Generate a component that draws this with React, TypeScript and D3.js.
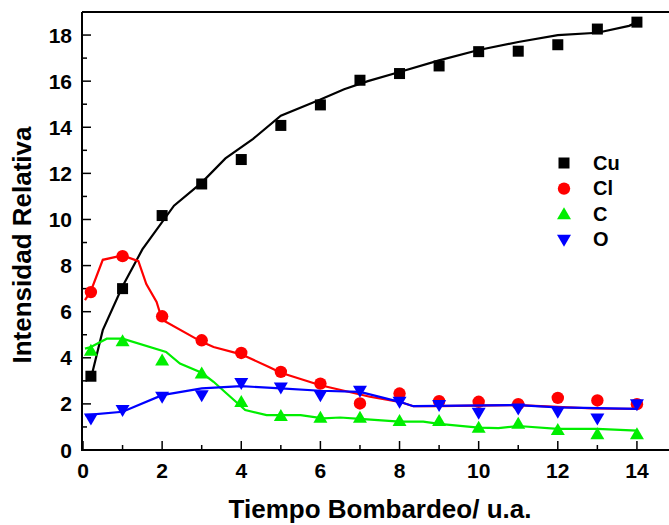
import * as d3 from 'd3'

// measured points (x = tiempo, y = intensidad)
const times = [0.2, 1, 2, 3, 4, 5, 6, 7, 8, 9, 10, 11, 12, 13, 14]
const cuValues = [3.2, 7.0, 10.17, 11.54, 12.6, 14.08, 14.97, 16.04, 16.33, 16.66, 17.28, 17.3, 17.58, 18.26, 18.56]
const clValues = [6.85, 8.41, 5.8, 4.76, 4.21, 3.39, 2.88, 2.02, 2.45, 2.12, 2.09, 1.99, 2.26, 2.15, 1.99]
const cValues = [4.3, 4.72, 3.88, 3.32, 2.08, 1.47, 1.4, 1.4, 1.26, 1.26, 0.97, 1.14, 0.87, 0.68, 0.68]
const oValues = [1.37, 1.73, 2.31, 2.38, 2.91, 2.71, 2.38, 2.57, 2.09, 1.95, 1.62, 1.8, 1.66, 1.37, 1.99]

// fitted curves
const cuFit: [number, number][] = [[0.2, 3.1], [0.5, 5.2], [1, 7.1], [1.5, 8.7], [2.3, 10.6], [3, 11.6], [3.6, 12.65], [4.3, 13.5], [5, 14.5], [6, 15.2], [6.6, 15.65], [7.2, 16.0], [8, 16.4], [9, 16.9], [10, 17.35], [11, 17.7], [12, 18.0], [13, 18.1], [13.8, 18.4], [14, 18.55]]
const clFit: [number, number][] = [[0.05, 6.5], [0.2, 6.9], [0.5, 8.25], [1, 8.44], [1.4, 8.19], [1.6, 7.2], [1.86, 6.42], [2, 5.65], [3, 4.69], [3.3, 4.47], [4, 4.15], [4.7, 3.6], [5, 3.35], [6, 2.81], [7.25, 2.31], [8, 2.09], [8.35, 1.9], [9, 1.9], [11, 1.95], [12, 1.87], [12.9, 1.8], [14, 1.78]]
const cFit: [number, number][] = [[0.05, 4.4], [0.2, 4.47], [0.6, 4.83], [1, 4.83], [2.1, 4.25], [2.45, 3.75], [3, 3.35], [3.3, 2.96], [3.63, 2.45], [4.1, 1.73], [4.64, 1.51], [5.5, 1.51], [6.07, 1.37], [6.5, 1.41], [7, 1.35], [8, 1.23], [8.6, 1.23], [9, 1.13], [10, 0.97], [10.5, 0.95], [11, 1.04], [12, 0.92], [13, 0.92], [14, 0.84]]
const oFit: [number, number][] = [[0.05, 1.51], [1, 1.66], [2, 2.38], [3, 2.67], [4, 2.77], [5, 2.67], [6, 2.57], [7, 2.52], [8, 2.09], [8.35, 1.9], [11, 1.95], [12, 1.85], [14, 1.78]]

const xMajor = [0, 2, 4, 6, 8, 10, 12, 14]
const xMinor = [1, 3, 5, 7, 9, 11, 13]
const yMajor = [0, 2, 4, 6, 8, 10, 12, 14, 16, 18]
const yMinor = [1, 3, 5, 7, 9, 11, 13, 15, 17]

const series = [
  { name: 'Cu', values: cuValues, fit: cuFit, color: '#000000', shape: 'square' },
  { name: 'Cl', values: clValues, fit: clFit, color: '#ff0000', shape: 'circle' },
  { name: 'C', values: cValues, fit: cFit, color: '#00ee00', shape: 'up' },
  { name: 'O', values: oValues, fit: oFit, color: '#0000ff', shape: 'down' },
]

const font = 'Liberation Sans, Arial, sans-serif'

const Marker = ({ shape, x, y, color }: { shape: string; x: number; y: number; color: string }) => {
  if (shape === 'square') return <rect x={x - 5.5} y={y - 5.5} width={11} height={11} fill={color} />
  if (shape === 'circle') return <circle cx={x} cy={y} r={6.2} fill={color} />
  if (shape === 'up') return <path d={`M${x},${y - 7}L${x + 7},${y + 5}L${x - 7},${y + 5}Z`} fill={color} />
  return <path d={`M${x},${y + 7}L${x + 7},${y - 5}L${x - 7},${y - 5}Z`} fill={color} />
}

export default function App() {
  const width = 669
  const height = 525
  const left = 82
  const top = 12
  const bottom = 450

  const x = d3.scaleLinear().domain([0, 15]).range([83, 676.5])
  const y = d3.scaleLinear().domain([0, 19]).range([bottom, top])
  const line = d3.line<[number, number]>().x(d => x(d[0])).y(d => y(d[1]))

  return (
    <svg width={width} height={height} style={{ position: 'absolute', left: 0, top: 0, background: '#fff' }} fontFamily={font}>
      {/* frame */}
      <path d={`M${left},${top}H${width}M${left},${top}V${bottom}H${width}`} fill="none" stroke="#000" strokeWidth={2} />
      {xMajor.map(v => <line key={'xM' + v} x1={x(v)} x2={x(v)} y1={bottom} y2={bottom - 9} stroke="#000" strokeWidth={1.5} />)}
      {xMinor.map(v => <line key={'xm' + v} x1={x(v)} x2={x(v)} y1={bottom} y2={bottom - 5} stroke="#000" strokeWidth={1.5} />)}
      {yMajor.map(v => <line key={'yM' + v} x1={left} x2={left + 9} y1={y(v)} y2={y(v)} stroke="#000" strokeWidth={1.5} />)}
      {yMinor.map(v => <line key={'ym' + v} x1={left} x2={left + 5} y1={y(v)} y2={y(v)} stroke="#000" strokeWidth={1.5} />)}
      {xMajor.map(v => (
        <text key={'xl' + v} x={x(v)} y={478} textAnchor="middle" fontSize={21} fontWeight="bold">{v}</text>
      ))}
      {yMajor.map(v => (
        <text key={'yl' + v} x={72} y={y(v) + 7.5} textAnchor="end" fontSize={21} fontWeight="bold">{v}</text>
      ))}
      <text x={380} y={518} textAnchor="middle" fontSize={26} fontWeight="bold">Tiempo Bombardeo/ u.a.</text>
      <text transform="translate(31,245) rotate(-90)" textAnchor="middle" fontSize={26} fontWeight="bold">Intensidad Relativa</text>

      {series.map(s => (
        <g key={s.name}>
          <path d={line(s.fit) || ''} fill="none" stroke={s.color} strokeWidth={2.2} />
          {s.values.map((v, i) => <Marker key={i} shape={s.shape} x={x(times[i])} y={y(v)} color={s.color} />)}
        </g>
      ))}

      {series.map((s, i) => (
        <g key={'lg' + s.name} transform={`translate(0,${163 + i * 25.6})`}>
          <Marker shape={s.shape} x={564} y={0} color={s.color} />
          <text x={593} y={6.5} fontSize={20} fontWeight="bold">{s.name}</text>
        </g>
      ))}
    </svg>
  )
}
